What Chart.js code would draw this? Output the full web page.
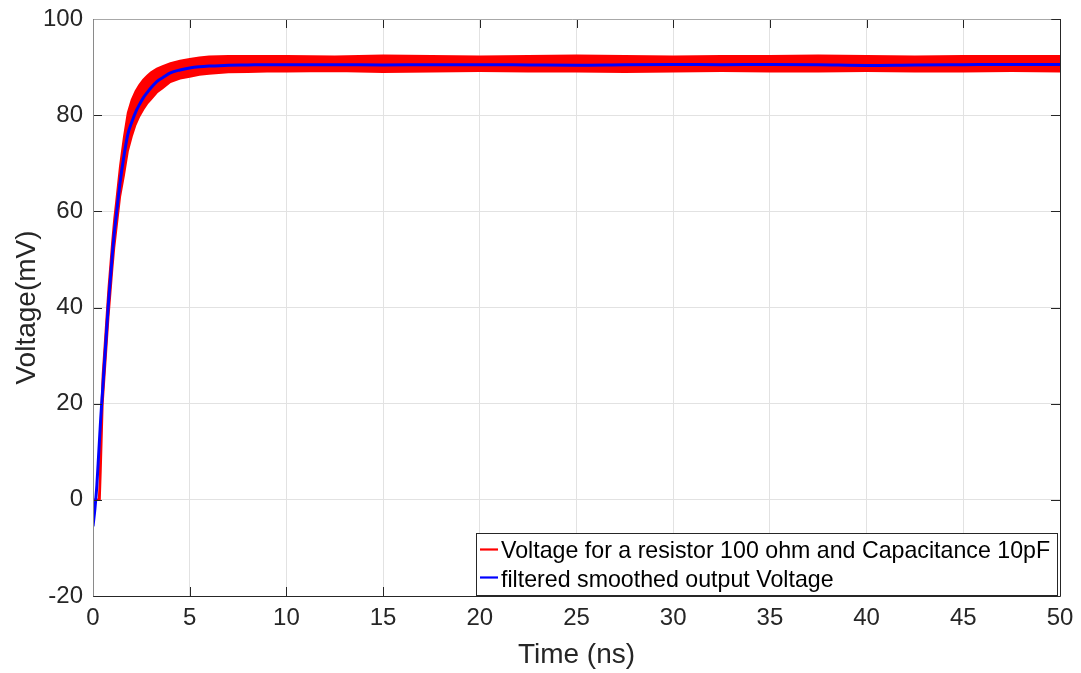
<!DOCTYPE html>
<html>
<head>
<meta charset="utf-8">
<script src="https://cdn.jsdelivr.net/npm/chart.js@4.4.1/dist/chart.umd.min.js"></script>
<style>
  html, body { margin: 0; padding: 0; background: #ffffff; }
  #wrap { width: 1081px; height: 673px; }
</style>
</head>
<body>
<div id="wrap"><canvas id="c" width="1081" height="673"></canvas></div>
<script>
// ---------- data ----------
const timeNs = [0, 0.1, 0.2, 0.3, 0.35, 0.4, 0.5, 0.6, 0.7, 0.8,
  0.9, 1.0, 1.1, 1.2, 1.4, 1.6, 1.8, 2.0, 2.2, 2.4,
  2.6, 2.8, 3.0, 3.3, 3.6, 4.0, 4.5, 5.0, 5.5, 6.0,
  7, 8, 9,
  10, 12.5, 15, 17.5, 20, 22.5, 25, 27.5, 30, 32.5, 35, 37.5, 40, 42.5, 45, 47.5, 50];

// measured (noisy) voltage: upper and lower edges of the red band, mV
const measuredUpper = [0, 0, 0, 0, 4, 15, 26, 32, 38, 44,
  49, 54, 58.5, 62, 69.5, 75.5, 80.5, 83.2, 85, 86.3,
  87.4, 88.2, 88.9, 89.7, 90.2, 90.8, 91.3, 91.7, 92.0, 92.2,
  92.3, 92.3, 92.3,
  92.3, 92.2, 92.4, 92.3, 92.2, 92.3, 92.4, 92.3, 92.2, 92.3, 92.3, 92.4, 92.3, 92.2, 92.3, 92.3, 92.3];
const measuredLower = [0, 0, 0, 0, 0, 6, 20, 26, 32, 38,
  43, 48, 52.5, 56, 63, 67.5, 72.5, 75.5, 78, 79.8,
  81.2, 82.4, 83.3, 84.7, 85.6, 86.9, 87.6, 88.0, 88.4, 88.6,
  88.9, 89.0, 89.1,
  89.1, 89.2, 89.0, 89.1, 89.2, 89.1, 89.1, 89.0, 89.1, 89.2, 89.1, 89.1, 89.2, 89.1, 89.1, 89.2, 89.1];

// filtered smoothed output voltage, mV
const smoothedVoltage = [-5.5, -1.8, 3, 10, 13.5, 17, 23, 29, 35, 41,
  46, 51, 55.5, 59, 66, 71.5, 76, 78.5, 80.6, 82.2,
  83.6, 84.7, 85.7, 87.0, 87.8, 88.8, 89.4, 89.8, 90.05, 90.2,
  90.4, 90.45, 90.5,
  90.5, 90.5, 90.45, 90.5, 90.5, 90.45, 90.4, 90.5, 90.55, 90.5, 90.55, 90.5, 90.35, 90.45, 90.5, 90.55, 90.55];

const seriesLabels = ['Voltage for a resistor 100 ohm and Capacitance 10pF', 'filtered smoothed output Voltage'];
const xAxisTitle = 'Time (ns)';
const yAxisTitle = 'Voltage(mV)';
const xRange = [0, 50], xStep = 5;
const yRange = [-20, 100], yStep = 20;

// ---------- build chart ----------
const FONT = "'Liberation Sans', Arial, Helvetica, sans-serif";
const toPts = (ys) => timeNs.map((t, i) => ({ x: t, y: ys[i] }));

const boxPlugin = {
  id: 'matlabBox',
  afterDatasetsDraw(chart) {
    const { ctx, chartArea: a, scales } = chart;
    const tl = 9;
    ctx.save();
    ctx.lineWidth = 1;
    // ticks
    ctx.strokeStyle = '#262626';
    ctx.beginPath();
    scales.x.ticks.forEach(t => {
      const px = Math.round(scales.x.getPixelForValue(t.value)) + 0.5;
      ctx.moveTo(px, a.bottom); ctx.lineTo(px, a.bottom - tl);
      ctx.moveTo(px, a.top); ctx.lineTo(px, a.top + tl);
    });
    scales.y.ticks.forEach(t => {
      const py = Math.round(scales.y.getPixelForValue(t.value)) + 0.5;
      ctx.moveTo(a.left, py); ctx.lineTo(a.left + tl, py);
      ctx.moveTo(a.right, py); ctx.lineTo(a.right - tl, py);
    });
    ctx.stroke();
    // box edges
    const L = Math.round(a.left) + 0.5, R = Math.round(a.right) + 0.5;
    const T = Math.round(a.top) + 0.5, B = Math.round(a.bottom) + 0.5;
    ctx.strokeStyle = '#8a8a8a';
    ctx.beginPath(); ctx.moveTo(L, T); ctx.lineTo(L, B); ctx.stroke();
    ctx.strokeStyle = '#a8a8a8';
    ctx.beginPath(); ctx.moveTo(L, T); ctx.lineTo(R - tl, T); ctx.stroke();
    ctx.strokeStyle = '#262626';
    ctx.beginPath(); ctx.moveTo(L, B); ctx.lineTo(R, B); ctx.lineTo(R, T); ctx.lineTo(R - tl, T); ctx.stroke();

    // legend box
    const lx = 476.5, ly = 533.5, lw = 581, lh = 62;
    ctx.fillStyle = '#ffffff';
    ctx.fillRect(lx, ly, lw, lh);
    ctx.strokeStyle = '#262626';
    ctx.strokeRect(lx, ly, lw, lh);
    const rows = [
      { color: '#ff0000', label: seriesLabels[0], lineY: 549.5, baseY: 558.3 },
      { color: '#0000ff', label: seriesLabels[1], lineY: 577.5, baseY: 586.5 }
    ];
    ctx.font = '23.2px ' + FONT;
    ctx.textBaseline = 'alphabetic';
    ctx.textAlign = 'left';
    rows.forEach(r => {
      ctx.strokeStyle = r.color;
      ctx.lineWidth = 2.2;
      ctx.beginPath(); ctx.moveTo(480, r.lineY); ctx.lineTo(498, r.lineY); ctx.stroke();
      ctx.fillStyle = '#000000';
      ctx.fillText(r.label, 501, r.baseY);
    });
    ctx.restore();
  }
};

new Chart(document.getElementById('c'), {
  type: 'line',
  data: {
    datasets: [
      {
        label: seriesLabels[1],
        data: toPts(smoothedVoltage),
        borderColor: '#0000ff',
        borderWidth: 3,
        pointRadius: 0,
        fill: false,
        cubicInterpolationMode: 'monotone',
        order: 0
      },
      {
        label: seriesLabels[0],
        data: toPts(measuredUpper),
        borderColor: '#ff0000',
        backgroundColor: '#ff0000',
        borderWidth: 2,
        pointRadius: 0,
        fill: '+1',
        order: 1
      },
      {
        label: 'lower edge',
        data: toPts(measuredLower),
        borderColor: '#ff0000',
        backgroundColor: '#ff0000',
        borderWidth: 2,
        pointRadius: 0,
        fill: false,
        order: 2
      }
    ]
  },
  options: {
    responsive: false,
    devicePixelRatio: 1,
    animation: false,
    layout: { padding: { left: 0, top: 19, right: 21, bottom: 0 } },
    plugins: {
      legend: { display: false },
      tooltip: { enabled: false }
    },
    scales: {
      x: {
        type: 'linear',
        min: xRange[0], max: xRange[1],
        ticks: {
          stepSize: xStep,
          font: { family: FONT, size: 24 },
          color: '#262626',
          padding: 8,
          maxRotation: 0,
          autoSkip: false
        },
        grid: { color: '#e2e2e2', lineWidth: 1, drawTicks: false },
        border: { display: false },
        title: {
          display: true,
          text: xAxisTitle,
          font: { family: FONT, size: 28 },
          color: '#262626',
          padding: { top: 0, bottom: 1 }
        },
        afterFit: s => { s.height = 77; s.paddingLeft = 0; s.paddingRight = 0; }
      },
      y: {
        type: 'linear',
        min: yRange[0], max: yRange[1],
        ticks: {
          stepSize: yStep,
          font: { family: FONT, size: 24 },
          color: '#262626',
          padding: 10
        },
        grid: { color: '#e2e2e2', lineWidth: 1, drawTicks: false },
        border: { display: false },
        title: {
          display: true,
          text: yAxisTitle,
          font: { family: FONT, size: 28 },
          color: '#262626',
          padding: { top: 10, bottom: 0 }
        },
        afterFit: s => { s.width = 93; s.paddingTop = 0; s.paddingBottom = 0; }
      }
    }
  },
  plugins: [boxPlugin]
});
</script>
</body>
</html>
